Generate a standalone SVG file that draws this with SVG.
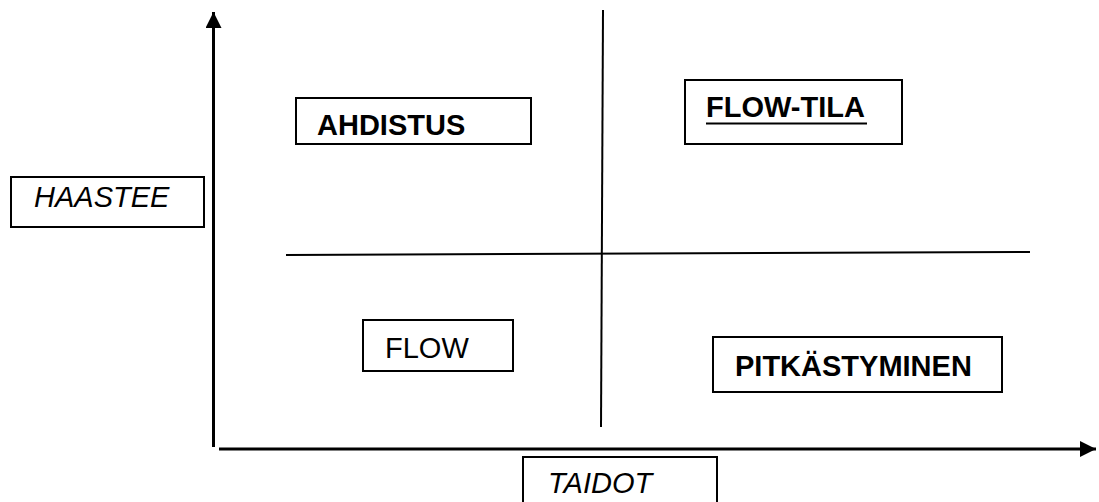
<svg xmlns="http://www.w3.org/2000/svg" width="1099" height="502" viewBox="0 0 1099 502">
  <style>
    .box { fill: #fff; stroke: #000; stroke-width: 2; }
    .axis { stroke: #000; stroke-width: 3; fill: none; }
    .div { stroke: #000; stroke-width: 2; fill: none; }
    .lbl { font-family: "Liberation Sans", Arial, sans-serif; font-size: 29px; fill: #000; }
    .b { font-weight: bold; }
    .i { font-style: italic; }
  </style>
  <defs>
    <marker id="arrow" markerUnits="userSpaceOnUse" markerWidth="18" markerHeight="18" refX="16" refY="8" orient="auto">
      <path d="M0,0 L16,8 L0,16 Z" fill="#000"/>
    </marker>
  </defs>

  <!-- axes and quadrant dividers -->
  <g id="connectors">
    <line class="axis" x1="213.5" y1="447" x2="213.5" y2="12" marker-end="url(#arrow)"/>
    <line class="axis" x1="219" y1="449" x2="1096" y2="449" marker-end="url(#arrow)"/>
    <line class="div" x1="603" y1="10" x2="601" y2="427"/>
    <line class="div" x1="286" y1="255" x2="1030" y2="252"/>
  </g>

  <g id="haastee">
    <rect class="box" x="11" y="177" width="193" height="50"/>
    <text class="lbl i" x="34" y="207">HAASTEE</text>
  </g>

  <g id="ahdistus">
    <rect class="box" x="296" y="98" width="235" height="46"/>
    <text class="lbl b" x="317" y="135">AHDISTUS</text>
  </g>

  <g id="flow-tila">
    <rect class="box" x="685" y="80" width="217" height="64"/>
    <text class="lbl b" x="706" y="117">FLOW-TILA</text>
    <line x1="706" y1="123.5" x2="867" y2="123.5" stroke="#000" stroke-width="2.2"/>
  </g>

  <g id="flow">
    <rect class="box" x="363" y="320" width="150" height="51"/>
    <text class="lbl" x="385" y="358">FLOW</text>
  </g>

  <g id="pitkastyminen">
    <rect class="box" x="713" y="337" width="289" height="55"/>
    <text class="lbl b" x="735" y="376">PITKÄSTYMINEN</text>
  </g>

  <g id="taidot">
    <rect class="box" x="523" y="457" width="194" height="60"/>
    <text class="lbl i" x="548" y="493">TAIDOT</text>
  </g>
</svg>
